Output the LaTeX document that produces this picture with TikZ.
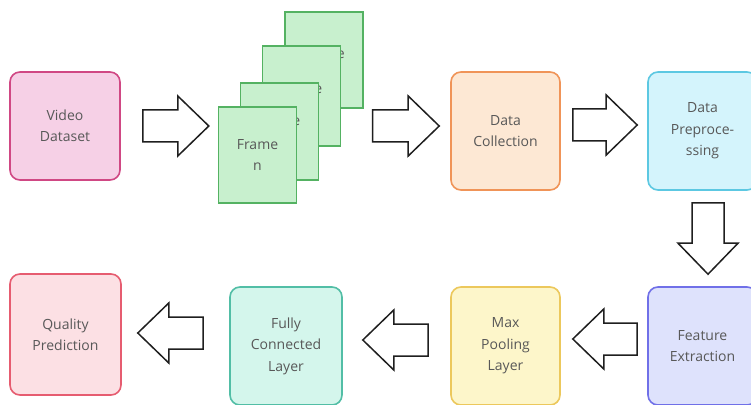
\documentclass[tikz,border=0pt]{standalone}
\usepackage{fontspec}
\setmainfont{Open Sans}
\usetikzlibrary{calc}

\definecolor{txt}{RGB}{88,88,88}
\definecolor{vdline}{RGB}{208,72,132}
\definecolor{vdfill}{RGB}{246,208,230}
\definecolor{frline}{RGB}{84,178,98}
\definecolor{frfill}{RGB}{200,240,206}
\definecolor{dcline}{RGB}{240,148,88}
\definecolor{dcfill}{RGB}{253,232,212}
\definecolor{dpline}{RGB}{92,200,226}
\definecolor{dpfill}{RGB}{212,244,252}
\definecolor{feline}{RGB}{112,112,232}
\definecolor{fefill}{RGB}{222,226,252}
\definecolor{mpline}{RGB}{236,200,92}
\definecolor{mpfill}{RGB}{253,246,202}
\definecolor{fcline}{RGB}{82,190,166}
\definecolor{fcfill}{RGB}{212,246,236}
\definecolor{qpline}{RGB}{230,92,112}
\definecolor{qpfill}{RGB}{252,224,228}

\tikzset{
  stage/.style={line width=1.6pt, rounded corners=10pt, align=center,
    text=txt, font=\fontsize{14}{21.5}\selectfont, inner sep=0pt},
  frametext/.style={align=center, text=txt, font=\fontsize{14}{21.5}\selectfont,
    inner sep=0pt},
  framecard/.style={draw=frline, fill=frfill, line width=1.4pt, frametext,
    minimum width=78pt},
  flowarrow/.style={draw=black!88, fill=white, line width=1.5pt, line join=miter},
}

% hollow block arrow from #1 to #2 (tail half-width 16, head half-width 30, head length 31)
\newcommand\blockarrow[2]{%
  \path[flowarrow] let \p1=(#1), \p2=(#2),
    \n1={atan2(\y2-\y1,\x2-\x1)}, \n2={veclen(\x2-\x1,\y2-\y1)}, \n3={\n2-31} in
    ($(\p1)+({\n1-90}:16)$) -- ($(\p1)+(\n1:\n3)+({\n1-90}:16)$)
    -- ($(\p1)+(\n1:\n3)+({\n1-90}:30)$) -- (\p2)
    -- ($(\p1)+(\n1:\n3)+({\n1+90}:30)$) -- ($(\p1)+(\n1:\n3)+({\n1+90}:16)$)
    -- ($(\p1)+({\n1+90}:16)$) -- cycle;}

\begin{document}
\begin{tikzpicture}[x=1pt, y=1pt]
  \useasboundingbox (0,0) rectangle (751,404);
  \clip (0,0) rectangle (751,404);
  \fill[white] (0,0) rectangle (751,404);

  % top row
  \node[stage, draw=vdline, fill=vdfill, minimum width=110pt, minimum height=108pt]
    (vd) at (65,278) {Video\\Dataset};

  % stack of frame cards, back to front
  \node[framecard, minimum height=96pt,
    label={[frametext, yshift=-4pt]center:{Frame\\3}}] (f4) at (324,344) {};
  \node[framecard, minimum height=100pt,
    label={[frametext, yshift=-3pt]center:{Frame\\2}}] (f3) at (301.5,308) {};
  \node[framecard, minimum height=97pt] (f2) at (279.5,272.5) {Frame\\1};
  \node[framecard, minimum height=96pt] (f1) at (257.5,249) {Frame\\n};

  \node[stage, draw=dcline, fill=dcfill, minimum width=109pt, minimum height=118pt]
    (dc) at (505.5,273) {Data\\Collection};
  \node[stage, draw=dpline, fill=dpfill, minimum width=109pt, minimum height=118pt]
    (dp) at (702.5,273) {Data\\Preproce-\\ssing};

  % bottom row
  \node[stage, draw=feline, fill=fefill, minimum width=109pt, minimum height=118pt]
    (fe) at (702.5,58) {Feature\\Extraction};
  \node[stage, draw=mpline, fill=mpfill, minimum width=109pt, minimum height=118pt]
    (mp) at (505.5,58) {Max\\Pooling\\Layer};
  \node[stage, draw=fcline, fill=fcfill, minimum width=112pt, minimum height=118pt]
    (fc) at (286,58) {Fully\\Connected\\Layer};
  \node[stage, draw=qpline, fill=qpfill, minimum width=111pt, minimum height=121pt]
    (qp) at (65.5,69.5) {Quality\\Prediction};

  % connectors
  \blockarrow{$(vd.east)+(22,0)$}{$(f1.west|-vd.east)+(-9,0)$}
  \blockarrow{$(f4.east|-vd.east)+(9,0)$}{$(dc.west|-vd.east)+(-11,0)$}
  \blockarrow{$(dc.east)+(12,6)$}{$(dp.west)+(-10,6)$}
  \blockarrow{$(dp.south)+(5.5,-12)$}{$(fe.north)+(5.5,12)$}
  \blockarrow{$(fe.west)+(-10,7)$}{$(mp.east)+(12,7)$}
  \blockarrow{$(mp.west)+(-22,6)$}{$(fc.east)+(20,6)$}
  \blockarrow{$(fc.west)+(-26,13)$}{$(qp.east)+(16,1.5)$}
\end{tikzpicture}
\end{document}
